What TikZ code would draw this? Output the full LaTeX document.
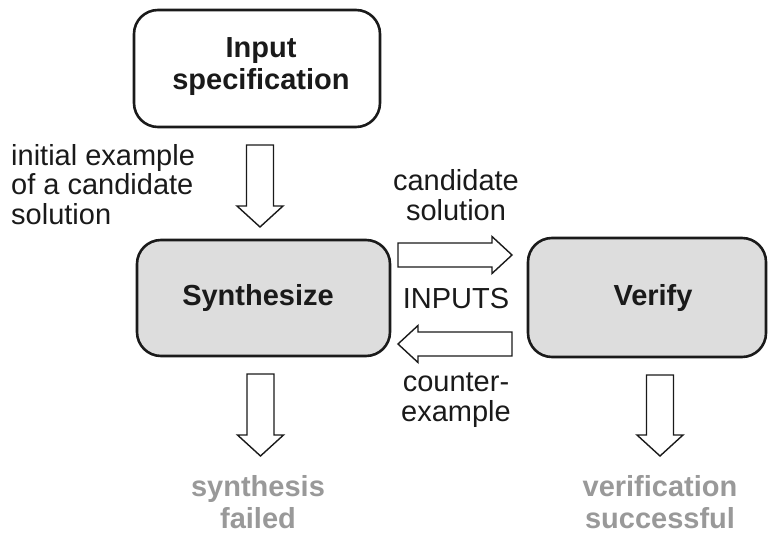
\documentclass[tikz,border=0pt]{standalone}
\usepackage{fontspec}
\setmainfont{Liberation Sans}
\usetikzlibrary{calc}
\definecolor{boxgray}{HTML}{DDDDDD}
\definecolor{txtgray}{HTML}{999999}
\definecolor{ink}{HTML}{1A1A1A}
\tikzset{
  stepbox/.style={draw=ink, line width=2.6pt, rounded corners=24pt, inner sep=0pt},
  graybox/.style={stepbox, fill=boxgray},
  lbl/.style={font=\fontsize{29}{29.5}\selectfont, text=ink, inner sep=0pt, align=center},
  boldlbl/.style={lbl, font=\fontsize{29}{32}\selectfont\bfseries},
  outlbl/.style={boldlbl, text=txtgray},
  barrow/.style={draw=ink, line width=1.4pt, fill=white, line join=miter},
}
% vertical block arrow: from #1 down to #2 (tip)
\newcommand\vblock[2]{%
  \draw[barrow] let \p1=(#1), \p2=(#2) in
    (\x1-13.5pt,\y1) -- (\x1+13.5pt,\y1) -- (\x1+13.5pt,\y2+21pt) -- (\x1+23pt,\y2+21pt)
    -- (\x1,\y2) -- (\x1-23pt,\y2+21pt) -- (\x1-13.5pt,\y2+21pt) -- cycle;}
% horizontal block arrow: from #1 to tip #2, #3 = +1 (right) or -1 (left)
\newcommand\hblock[3]{%
  \draw[barrow] let \p1=(#1), \p2=(#2) in
    (\x1,\y1-12pt) -- (\x1,\y1+12pt) -- (\x2-#3*20pt,\y1+12pt) -- (\x2-#3*20pt,\y1+18.5pt)
    -- (\x2,\y1) -- (\x2-#3*20pt,\y1-18.5pt) -- (\x2-#3*20pt,\y1-12pt) -- cycle;}
\begin{document}
\begin{tikzpicture}[x=1pt,y=-1pt]
\useasboundingbox (0,0) rectangle (768,534);
% boxes
\node[stepbox, minimum width=246pt, minimum height=117pt] (inp) at (257,68.5) {};
\node[boldlbl] (inpt) at (261,67) {Input\\specification};
\node[graybox, minimum width=253pt, minimum height=116pt] (syn) at (263.5,298) {};
\node[boldlbl] (synt) at (258,298) {Synthesize};
\node[graybox, minimum width=238pt, minimum height=119pt] (ver) at (647,297.5) {};
\node[boldlbl] (vert) at (653,298) {Verify};
% arrow anchor coordinates
\coordinate (a1s) at (260,145);
\coordinate (a1e) at (260,227);
\coordinate (a2s) at (260.5,374);
\coordinate (a2e) at (260.5,456);
\coordinate (a3s) at (660,375);
\coordinate (a3e) at (660,456);
\coordinate (rs) at (398,255);
\coordinate (re) at (512,255);
\coordinate (ls) at (512,344);
\coordinate (le) at (398,344);
\vblock{a1s}{a1e}
\vblock{a2s}{a2e}
\vblock{a3s}{a3e}
\hblock{rs}{re}{1}
\hblock{ls}{le}{-1}
% labels
\node[lbl, align=left, anchor=north west] (init) at (11,144) {initial example\\of a candidate\\solution};
\node[lbl] (cand) at (456,195) {candidate\\solution};
\node[lbl] (inputs) at (456,299) {INPUTS};
\node[lbl] (cex) at (456,400) {counter-\\example};
\node[outlbl] (fail) at (258,502) {synthesis\\failed};
\node[outlbl] (succ) at (660,502) {verification\\successful};
\end{tikzpicture}
\end{document}
